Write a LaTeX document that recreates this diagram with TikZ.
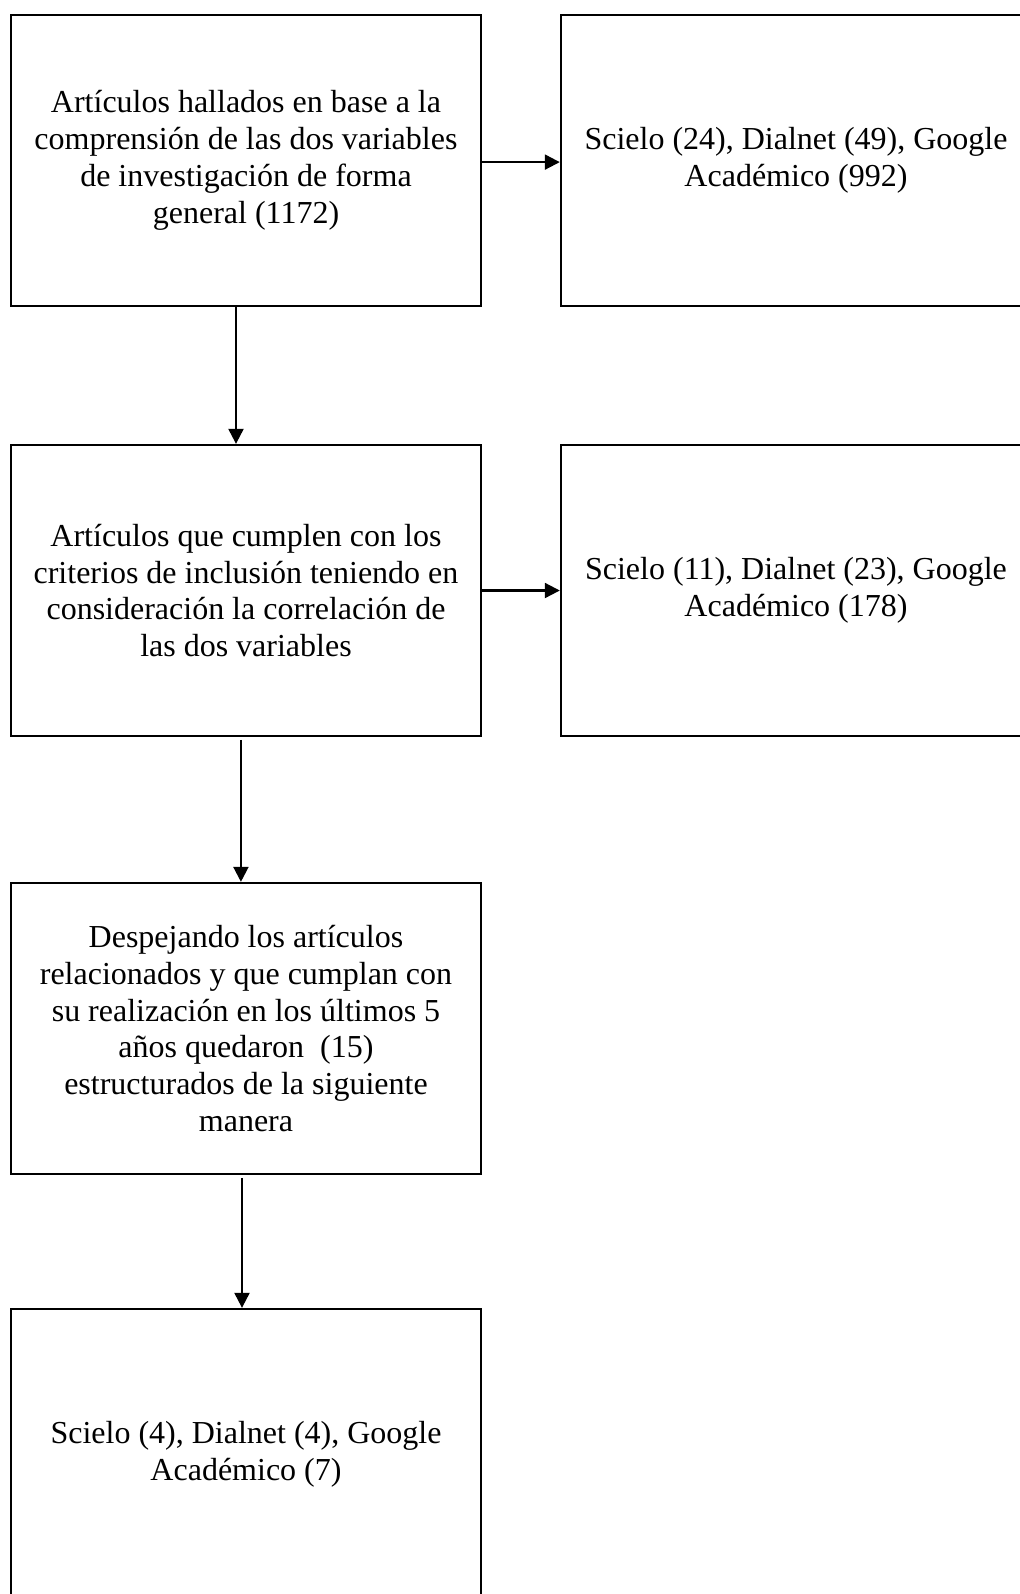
\documentclass[tikz,border=0pt]{standalone}
\usepackage{fontspec}
\setmainfont{Liberation Serif}
\usepackage{tikz}
\usetikzlibrary{arrows.meta}

\begin{document}
\begin{tikzpicture}[
    x=0.375pt,
    y=-0.375pt,
    stage/.style={
        draw=black,
        line width=0.9pt,
        minimum width=176.25pt,
        minimum height=109.1pt,
        inner sep=0pt,
        align=center,
        font=\fontsize{12}{13.8}\selectfont,
    },
    flow/.style={
        draw=black,
        line width=0.8pt,
        -{Triangle[length=5.6pt,width=5.6pt]},
    },
]

\clip (0, 0) rectangle (1020, 1594);

\node[stage] (S1) at (246, 160.5) {Artículos hallados en base a la\\comprensión de las dos variables\\de investigación de forma\\general (1172)};
\node[stage] (D1) at (796, 160.5) {Scielo (24), Dialnet (49), Google\\Académico (992)};
\node[stage] (S2) at (246, 590.5) {Artículos que cumplen con los\\criterios de inclusión teniendo en\\consideración la correlación de\\las dos variables};
\node[stage] (D2) at (796, 590.5) {Scielo (11), Dialnet (23), Google\\Académico (178)};
\node[stage] (S3) at (246, 1028.5) {Despejando los artículos\\relacionados y que cumplan con\\su realización en los últimos 5\\años quedaron\ \ (15)\\estructurados de la siguiente\\manera};
\node[stage] (S4) at (246, 1454.5) {Scielo (4), Dialnet (4), Google\\Académico (7)};

\draw[flow] ([yshift=-0.6pt]S1.east) -- ([yshift=-0.6pt]D1.west);
\draw[flow] (S2.east) -- (D2.west);
\draw[flow] ([xshift=-3.75pt]S1.south) -- ([xshift=-3.75pt]S2.north);
\draw[flow] ([xshift=-1.9pt,yshift=-1pt]S2.south) -- ([xshift=-1.9pt]S3.north);
\draw[flow] ([xshift=-1.5pt,yshift=-1pt]S3.south) -- ([xshift=-1.5pt]S4.north);

\end{tikzpicture}
\end{document}
